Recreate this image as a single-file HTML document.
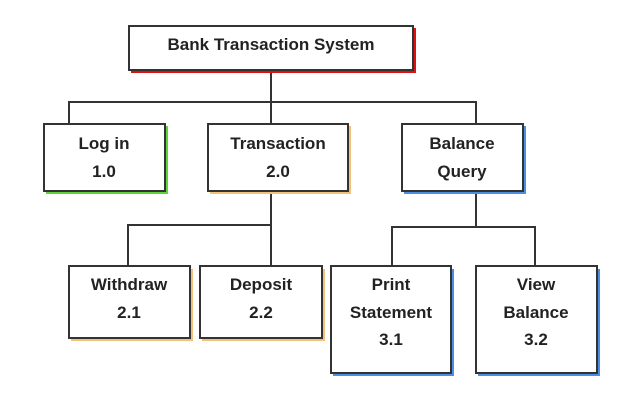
<!DOCTYPE html>
<html><head><meta charset="utf-8"><style>
html,body{margin:0;padding:0;background:#fff;width:627px;height:410px;overflow:hidden}
text{font-family:"Liberation Sans",sans-serif;font-weight:bold;font-size:17px;fill:#222;text-anchor:middle}
</style></head><body>
<svg width="627" height="410" viewBox="0 0 627 410" xmlns="http://www.w3.org/2000/svg">
<g fill="none" stroke="#333" stroke-width="2">
<path d="M271 70V125M69 125V102H476V125"/>
<path d="M271 191V266M128 266V225H271"/>
<path d="M476 191V227M392 266V227H535V266"/>
</g>
<rect x="131" y="28" width="285" height="45" fill="#e01010"/>
<rect x="46" y="126" width="122" height="68" fill="#5fd33a"/>
<rect x="210" y="126" width="141" height="68" fill="#f2c27a"/>
<rect x="404" y="126" width="122" height="68" fill="#4a8fe0"/>
<rect x="71" y="269" width="122" height="72" fill="#f2c27a"/>
<rect x="202" y="269" width="123" height="72" fill="#f2c27a"/>
<rect x="333" y="269" width="121" height="107" fill="#4a8fe0"/>
<rect x="478" y="269" width="122" height="107" fill="#4a8fe0"/>
<g fill="#fff" stroke="#333" stroke-width="2">
<rect x="129" y="26" width="284" height="44"/>
<rect x="44" y="124" width="121" height="67"/>
<rect x="208" y="124" width="140" height="67"/>
<rect x="402" y="124" width="121" height="67"/>
<rect x="69" y="266" width="121" height="72"/>
<rect x="200" y="266" width="122" height="72"/>
<rect x="331" y="266" width="120" height="107"/>
<rect x="476" y="266" width="121" height="107"/>
</g>
<text x="271" y="50">Bank Transaction System</text>
<text x="104" y="149">Log in</text><text x="104" y="177">1.0</text>
<text x="278" y="149">Transaction</text><text x="278" y="177">2.0</text>
<text x="462" y="149">Balance</text><text x="462" y="177">Query</text>
<text x="129" y="290">Withdraw</text><text x="129" y="318">2.1</text>
<text x="261" y="290">Deposit</text><text x="261" y="318">2.2</text>
<text x="391" y="290">Print</text><text x="391" y="318">Statement</text><text x="391" y="345">3.1</text>
<text x="536" y="290">View</text><text x="536" y="318">Balance</text><text x="536" y="345">3.2</text>
</svg>
</body></html>
